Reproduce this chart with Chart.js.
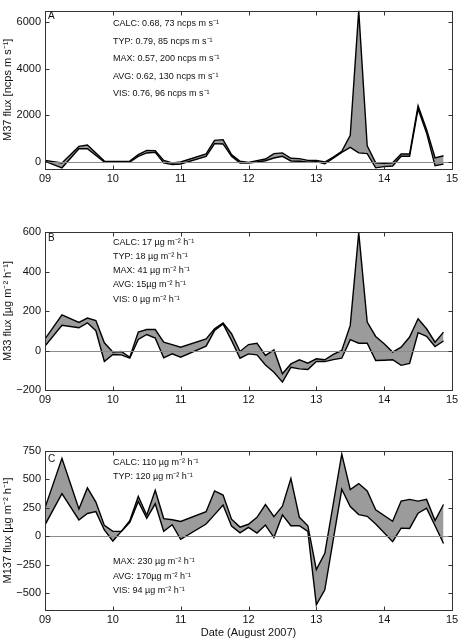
<!DOCTYPE html>
<html><head><meta charset="utf-8">
<script src="https://cdn.jsdelivr.net/npm/chart.js@4.4.1/dist/chart.umd.min.js"></script>
<style>
html,body{margin:0;padding:0;background:#fff;}
#wrap{position:relative;width:465px;height:644px;overflow:hidden;}
.p{position:absolute;left:0;width:465px;}
</style></head><body>
<div id="wrap">
<div class="p" style="top:0;height:200px"><canvas id="cA"></canvas></div>
<div class="p" style="top:200px;height:220px"><canvas id="cB"></canvas></div>
<div class="p" style="top:420px;height:224px"><canvas id="cC"></canvas></div>
</div>
<script>
// ---- data ----
const xTickLabels = ['09','10','11','12','13','14','15'];

const timesA = [9.0, 9.25, 9.5, 9.625, 9.875, 10.0, 10.25, 10.375, 10.5, 10.625, 10.75, 10.875, 11.0, 11.375, 11.5, 11.625, 11.75, 11.875, 12.0, 12.125, 12.25, 12.375, 12.5, 12.625, 12.75, 12.875, 13.0, 13.125, 13.25, 13.375, 13.5, 13.625, 13.75, 13.875, 14.0, 14.125, 14.25, 14.375, 14.5, 14.625, 14.75, 14.875];
const highA  = [70, -40, 670, 730, 40, 20, 40, 315, 500, 490, 70, -40, 0, 345, 930, 960, 315, 30, -15, 60, 130, 360, 390, 160, 145, 70, 70, 0, 215, 460, 1150, 6500, 700, -30, -50, -30, 345, 345, 2420, 1400, 180, 270];
const lowA   = [30, -250, 570, 575, 0, 0, 0, 245, 390, 415, -40, -110, -85, 245, 790, 775, 245, -40, -40, 0, 55, 170, 245, 45, 30, -10, 15, -70, 170, 415, 630, 390, 360, -250, -200, -170, 245, 245, 2280, 1250, -160, -90];

const timesB = [9.0, 9.25, 9.5, 9.625, 9.75, 9.875, 10.0, 10.125, 10.25, 10.375, 10.5, 10.625, 10.75, 10.875, 11.0, 11.375, 11.5, 11.625, 11.75, 11.875, 12.0, 12.125, 12.25, 12.375, 12.5, 12.625, 12.75, 12.875, 13.0, 13.125, 13.25, 13.375, 13.5, 13.625, 13.75, 13.875, 14.0, 14.125, 14.25, 14.375, 14.5, 14.625, 14.75, 14.875];
const highB  = [59, 181, 142, 164, 152, 39, -8, -5, -34, 93, 106, 106, 42, 30, 17, 59, 110, 139, 85, -5, 30, 37, -25, 3, -118, -68, -47, -64, -42, -47, -20, 0, 127, 597, 144, 71, 34, -8, 17, 68, 161, 110, 42, 93];
const lowB   = [22, 128, 115, 140, 100, -56, -20, -22, -39, 56, 81, 63, -37, -17, -34, 22, 101, 135, 51, -39, -17, -22, -73, -110, -160, -85, -93, -96, -56, -56, -46, -39, 55, 37, 37, -51, -49, -47, -75, -65, 90, 72, 20, 48];

const timesC = [9.0, 9.25, 9.5, 9.625, 9.75, 9.875, 10.0, 10.125, 10.25, 10.375, 10.5, 10.625, 10.75, 10.875, 11.0, 11.375, 11.5, 11.625, 11.75, 11.875, 12.0, 12.125, 12.25, 12.375, 12.5, 12.625, 12.75, 12.875, 13.0, 13.125, 13.375, 13.5, 13.625, 13.75, 13.875, 14.125, 14.25, 14.375, 14.5, 14.625, 14.75, 14.875];
const highC  = [250, 685, 240, 425, 300, 95, 42, 42, 137, 350, 185, 404, 155, 145, 130, 215, 398, 362, 150, 80, 105, 166, 279, 172, 264, 508, 166, 92, -294, -151, 722, 410, 463, 398, 232, 131, 309, 324, 309, 324, 137, 279];
const lowC   = [100, 374, 143, 200, 216, 55, -43, 42, 122, 305, 158, 285, 42, 101, -27, 107, 190, 275, 90, 30, 77, 27, 98, -12, 187, 92, 92, 42, -605, -472, 413, 261, 190, 175, 107, -48, 71, 68, 202, 247, 92, -65];

const yTicksA = [0, 2000, 4000, 6000];
const yTicksB = [-200, 0, 200, 400, 600];
const yTicksC = [-500, -250, 0, 250, 500, 750];

const notesA = ['CALC: 0.68, 73 ncps m s\u207B\u00B9', 'TYP: 0.79, 85 ncps m s\u207B\u00B9', 'MAX: 0.57, 200 ncps m s\u207B\u00B9', 'AVG: 0.62, 130 ncps m s\u207B\u00B9', 'VIS: 0.76, 96 ncps m s\u207B\u00B9'];
const notesB = ['CALC: 17 \u00B5g m\u207B\u00B2 h\u207B\u00B9', 'TYP: 18 \u00B5g m\u207B\u00B2 h\u207B\u00B9', 'MAX: 41 \u00B5g m\u207B\u00B2 h\u207B\u00B9', 'AVG: 15\u00B5g m\u207B\u00B2 h\u207B\u00B9', 'VIS: 0 \u00B5g m\u207B\u00B2 h\u207B\u00B9'];
const notesC = ['CALC: 110 \u00B5g m\u207B\u00B2 h\u207B\u00B9', 'TYP: 120 \u00B5g m\u207B\u00B2 h\u207B\u00B9', 'MAX: 230 \u00B5g m\u207B\u00B2 h\u207B\u00B9', 'AVG: 170\u00B5g m\u207B\u00B2 h\u207B\u00B9', 'VIS: 94 \u00B5g m\u207B\u00B2 h\u207B\u00B9'];

const yTitleA = 'M37 flux [ncps m s\u207B\u00B9]';
const yTitleB = 'M33 flux [\u00B5g m\u207B\u00B2 h\u207B\u00B9]';
const yTitleC = 'M137 flux [\u00B5g m\u207B\u00B2 h\u207B\u00B9]';
const xTitle = 'Date (August 2007)';

// ---- drawing ----
const FONT = '"Liberation Sans", Arial, Helvetica, sans-serif';

const framePlugin = {
  id: 'frame',
  afterDatasetsDraw(chart, args, opts) {
    const ctx = chart.ctx, a = chart.chartArea, x = chart.scales.x, y = chart.scales.y;
    ctx.save();
    // zero line
    const y0 = Math.round(y.getPixelForValue(0)) + 0.5;
    ctx.strokeStyle = '#8a8a8a'; ctx.lineWidth = 1;
    ctx.beginPath(); ctx.moveTo(a.left, y0); ctx.lineTo(a.right, y0); ctx.stroke();
    // box + inward ticks
    const L = Math.round(a.left) + 0.5, R = Math.round(a.right) + 0.5;
    const T = Math.round(a.top) + 0.5, B = Math.round(a.bottom) + 0.5;
    ctx.strokeStyle = '#333'; ctx.lineWidth = 1;
    ctx.strokeRect(L, T, R - L, B - T);
    ctx.beginPath();
    const tl = 4;
    x.ticks.forEach(t => {
      const px = Math.round(x.getPixelForValue(t.value)) + 0.5;
      ctx.moveTo(px, B); ctx.lineTo(px, B - tl);
      ctx.moveTo(px, T); ctx.lineTo(px, T + tl);
    });
    y.ticks.forEach(t => {
      const py = Math.round(y.getPixelForValue(t.value)) + 0.5;
      ctx.moveTo(L, py); ctx.lineTo(L + tl, py);
      ctx.moveTo(R, py); ctx.lineTo(R - tl, py);
    });
    ctx.stroke();
    // annotations
    ctx.fillStyle = '#111';
    ctx.textBaseline = 'middle'; ctx.textAlign = 'left';
    ctx.font = '9px ' + FONT;
    opts.notes.forEach((s, i) => ctx.fillText(s, opts.noteX, opts.noteY[i]));
    ctx.font = '10px ' + FONT;
    ctx.fillText(opts.letter, opts.letterX, opts.letterY);
    ctx.restore();
  }
};

function makeChart(id, times, high, low, ymin, ymax, yticks, ytitle, padTop, xH, frameOpts, showXTitle) {
  const hiPts = times.map((t, i) => ({x: t, y: high[i]}));
  const loPts = times.map((t, i) => ({x: t, y: low[i]}));
  return new Chart(document.getElementById(id), {
    type: 'line',
    data: {
      datasets: [
        {label: 'upper', data: hiPts, borderColor: '#000', borderWidth: 1.4, pointRadius: 0, fill: false, tension: 0},
        {label: 'lower', data: loPts, borderColor: '#000', borderWidth: 1.4, pointRadius: 0, fill: '-1', backgroundColor: '#9b9b9b', tension: 0}
      ]
    },
    options: {
      responsive: true, maintainAspectRatio: false, animation: false,
      layout: {padding: {top: padTop, right: 13, left: 0, bottom: 0}},
      plugins: {legend: {display: false}, tooltip: {enabled: false}, filler: {drawTime: 'beforeDatasetsDraw'}, frame: frameOpts},
      scales: {
        x: {
          type: 'linear', min: 9, max: 15,
          grid: {display: false, drawTicks: false}, border: {display: false},
          ticks: {stepSize: 1, autoSkip: false, maxRotation: 0, padding: 3, color: '#111', font: {size: 11, family: FONT},
            callback: v => xTickLabels[Math.round(v - 9)]},
          title: {display: showXTitle, text: xTitle, color: '#111', font: {size: 11, family: FONT}, padding: {top: 0, bottom: 4}},
          afterFit: s => { s.height = xH; }
        },
        y: {
          min: ymin, max: ymax,
          grid: {display: false, drawTicks: false}, border: {display: false},
          afterBuildTicks: s => { s.ticks = yticks.map(v => ({value: v})); },
          ticks: {padding: 4, color: '#111', font: {size: 11, family: FONT},
            callback: v => (v < 0 ? '\u2212' + Math.abs(v) : String(v))},
          title: {display: true, text: ytitle, color: '#111', font: {size: 11, family: FONT}, padding: {top: 1, bottom: 0}},
          afterFit: s => { s.width = 45; }
        }
      }
    },
    plugins: [framePlugin]
  });
}

makeChart('cA', timesA, highA, lowA, -300, 6500, yTicksA, yTitleA, 10, 31,
  {notes: notesA, noteX: 113, noteY: [24, 41.5, 59, 76.5, 94], letter: 'A', letterX: 48, letterY: 16}, false);
makeChart('cB', timesB, highB, lowB, -200, 600, yTicksB, yTitleB, 32, 30,
  {notes: notesB, noteX: 113, noteY: [42.3, 56.7, 71, 85, 99.3], letter: 'B', letterX: 48, letterY: 38.5}, false);
makeChart('cC', timesC, highC, lowC, -650, 750, yTicksC, yTitleC, 31, 34,
  {notes: notesC, noteX: 113, noteY: [42.7, 56.7, 141.7, 156.7, 170.7], letter: 'C', letterX: 48, letterY: 39}, true);
</script>
</body></html>
